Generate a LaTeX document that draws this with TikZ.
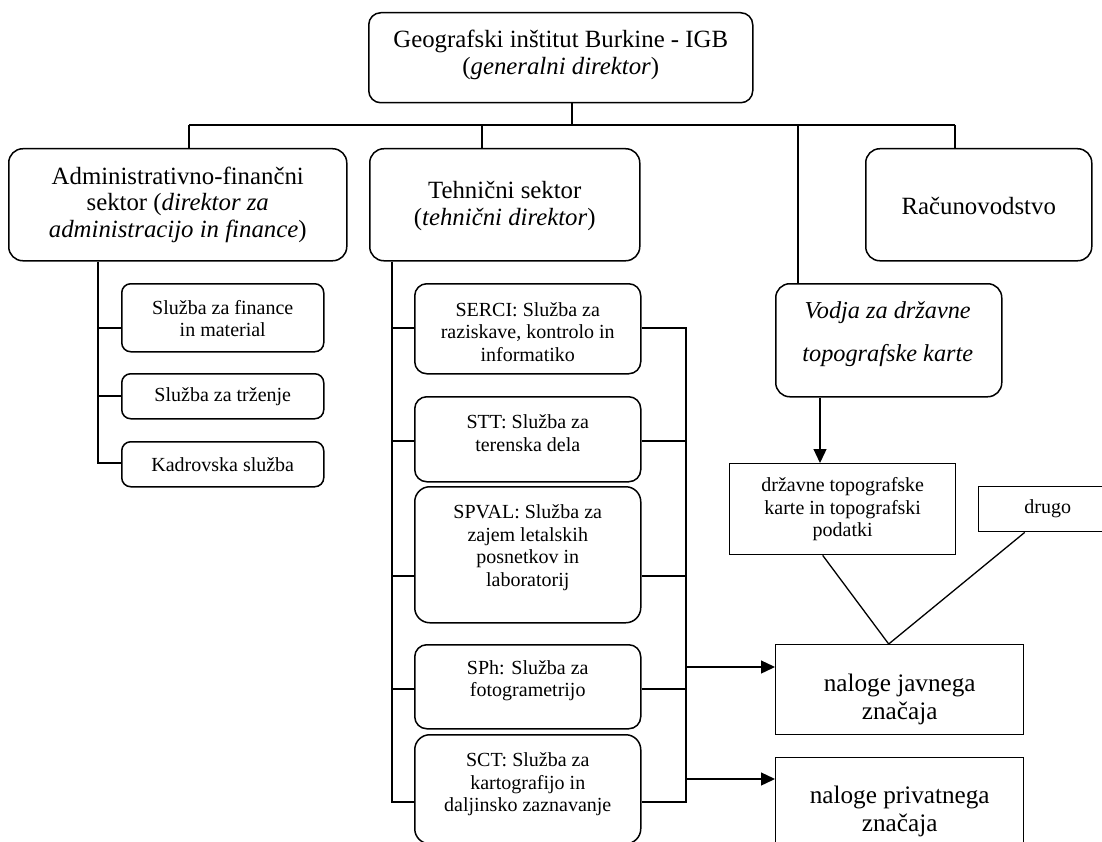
\documentclass[tikz,border=0pt]{standalone}
\usepackage{fontspec}
\setmainfont{Liberation Serif}
\usetikzlibrary{arrows.meta,calc}
\begin{document}
\begin{tikzpicture}[x=1pt,y=-1pt,
  line width=1.3pt,
  rbox/.style={draw, rounded corners=#1, line width=1.5pt, inner sep=0pt, anchor=north west},
  rbox/.default=10pt,
  sbox/.style={draw, line width=1.4pt, inner sep=0pt, anchor=north west},
  big/.style={font=\fontsize{24.8}{26.8}\selectfont, align=center, inner sep=0pt},
  small/.style={font=\fontsize{20}{22.6}\selectfont, align=center, inner sep=0pt},
  arr/.style={-{Triangle[length=14pt,width=13pt]}}
]
\useasboundingbox (0,0) rectangle (1102,842);
\fill[white] (0,0) rectangle (1102,842);
\clip (0,0) rectangle (1102,842);

% boxes
\node[rbox=12pt, minimum width=384pt, minimum height=90pt] (top) at (368,12) {};
\node[rbox=14pt, minimum width=338pt, minimum height=112pt] (admin) at (8,148) {};
\node[rbox=14pt, minimum width=270pt, minimum height=112pt] (tech) at (369,148) {};
\node[rbox=14pt, minimum width=226pt, minimum height=112pt] (racun) at (865,148) {};
\node[rbox=9pt, minimum width=202pt, minimum height=68pt] (fin) at (121,283) {};
\node[rbox=9pt, minimum width=202pt, minimum height=45pt] (trz) at (121,373) {};
\node[rbox=9pt, minimum width=202pt, minimum height=45pt] (kadr) at (121,441) {};
\node[rbox=12pt, minimum width=226pt, minimum height=90pt] (serci) at (414,283) {};
\node[rbox=12pt, minimum width=226pt, minimum height=85pt] (stt) at (414,396) {};
\node[rbox=15pt, minimum width=226pt, minimum height=136pt] (spval) at (414,486) {};
\node[rbox=12pt, minimum width=226pt, minimum height=84pt] (sph) at (414,644) {};
\node[rbox=15pt, minimum width=226pt, minimum height=109pt] (sct) at (414,734) {};
\node[rbox=14pt, minimum width=226pt, minimum height=113pt] (vodja) at (775,283) {};
\node[sbox, minimum width=226pt, minimum height=91pt] (drz) at (729,463) {};
\node[sbox, minimum width=138pt, minimum height=45pt] (drugo) at (978,486) {};
\node[sbox, minimum width=248pt, minimum height=90pt] (javni) at (775,644) {};
\node[sbox, minimum width=248pt, minimum height=105pt] (priv) at (775,757) {};

% texts
\node[big] (top-t) at ($(top.center)+(0,-3)$) {Geografski inštitut Burkine - IGB\\(\textit{generalni direktor})};
\node[big] (admin-t) at (admin.center) {Administrativno-finančni\\sektor (\textit{direktor za}\\\textit{administracijo in finance})};
\node[big] (tech-t) at ($(tech.center)+(0,1)$) {Tehnični sektor\\(\textit{tehnični direktor})};
\node[big] (racun-t) at ($(racun.center)+(0,1)$) {Računovodstvo};
\node[small] (fin-t) at ($(fin.center)+(0,1)$) {Služba za finance\\in material};
\node[small] (trz-t) at (trz.center) {Služba za trženje};
\node[small] (kadr-t) at (kadr.center) {Kadrovska služba};
\node[small] (serci-t) at ($(serci.center)+(0,3)$) {SERCI: Služba za\\raziskave, kontrolo in\\informatiko};
\node[small] (stt-t) at ($(stt.center)+(0,-6)$) {STT: Služba za\\terenska dela};
\node[small] (spval-t) at ($(spval.center)+(0,-7)$) {SPVAL: Služba za\\zajem letalskih\\posnetkov in\\laboratorij};
\node[small] (sph-t) at ($(sph.center)+(0,-6)$) {SPh: Služba za\\fotogrametrijo};
\node[small] (sct-t) at ($(sct.center)+(0,-5)$) {SCT: Služba za\\kartografijo in\\daljinsko zaznavanje};
\node[big, font=\fontsize{24.3}{43}\selectfont\itshape] (vodja-t) at ($(vodja.center)+(-1,-6)$) {Vodja za državne\\topografske karte};
\node[small] (drz-t) at (drz.center) {državne topografske\\karte in topografski\\podatki};
\node[small] (drugo-t) at (drugo.center) {drugo};
\node[big, font=\fontsize{25.2}{28}\selectfont] (javni-t) at ($(javni.center)+(0,10)$) {naloge javnega\\značaja};
\node[big, font=\fontsize{25.2}{28}\selectfont] (priv-t) at ($(priv.north)+(0,54)$) {naloge privatnega\\značaja};

% top bus
\coordinate (busL) at (189,125);
\coordinate (busT) at (572,125);
\coordinate (busTe) at (482,125);
\coordinate (busV) at (798,125);
\coordinate (busR) at (955,125);
\draw (busL) -- (busR);
\draw (top.south -| busT) -- (busT);
\draw (busL) -- (busL |- admin.north);
\draw (busTe) -- (busTe |- tech.north);
\draw (busV) -- (busV |- vodja.north);
\draw (busR) -- (busR |- racun.north);

% admin branch
\coordinate (a1) at (98,328);
\coordinate (a2) at (98,396);
\coordinate (a3) at (98,463);
\draw (admin.south -| a1) -- (a3) -- (a3 -| kadr.west);
\draw (a1) -- (a1 -| fin.west);
\draw (a2) -- (a2 -| trz.west);

% technical branch
\coordinate (L1) at (392,328);
\coordinate (L2) at (392,441);
\coordinate (L3) at (392,576);
\coordinate (L4) at (392,689);
\coordinate (L5) at (392,802);
\coordinate (R1) at (686,328);
\coordinate (R2) at (686,441);
\coordinate (R3) at (686,576);
\coordinate (R4) at (686,689);
\coordinate (R5) at (686,802);
\draw (tech.south -| L1) -- (L5) -- (L5 -| sct.west);
\draw (L1) -- (L1 -| serci.west);
\draw (L2) -- (L2 -| stt.west);
\draw (L3) -- (L3 -| spval.west);
\draw (L4) -- (L4 -| sph.west);
\draw (R1 -| serci.east) -- (R1) -- (R5) -- (R5 -| sct.east);
\draw (R2 -| stt.east) -- (R2);
\draw (R3 -| spval.east) -- (R3);
\draw (R4 -| sph.east) -- (R4);
\coordinate (A1) at (686,667);
\coordinate (A2) at (686,779);
\draw[arr] (A1) -- (A1 -| javni.west);
\draw[arr] (A2) -- (A2 -| priv.west);

% right side
\coordinate (V1) at (820,396);
\draw[arr] (V1 |- vodja.south) -- (V1 |- drz.north);
\coordinate (meet) at ($(javni.north)+(-11,0)$);
\draw (meet) -- ($(drz.south)+(-20,0)$);
\draw (meet) -- ($(drugo.south)+(-23,0)$);
\end{tikzpicture}
\end{document}
